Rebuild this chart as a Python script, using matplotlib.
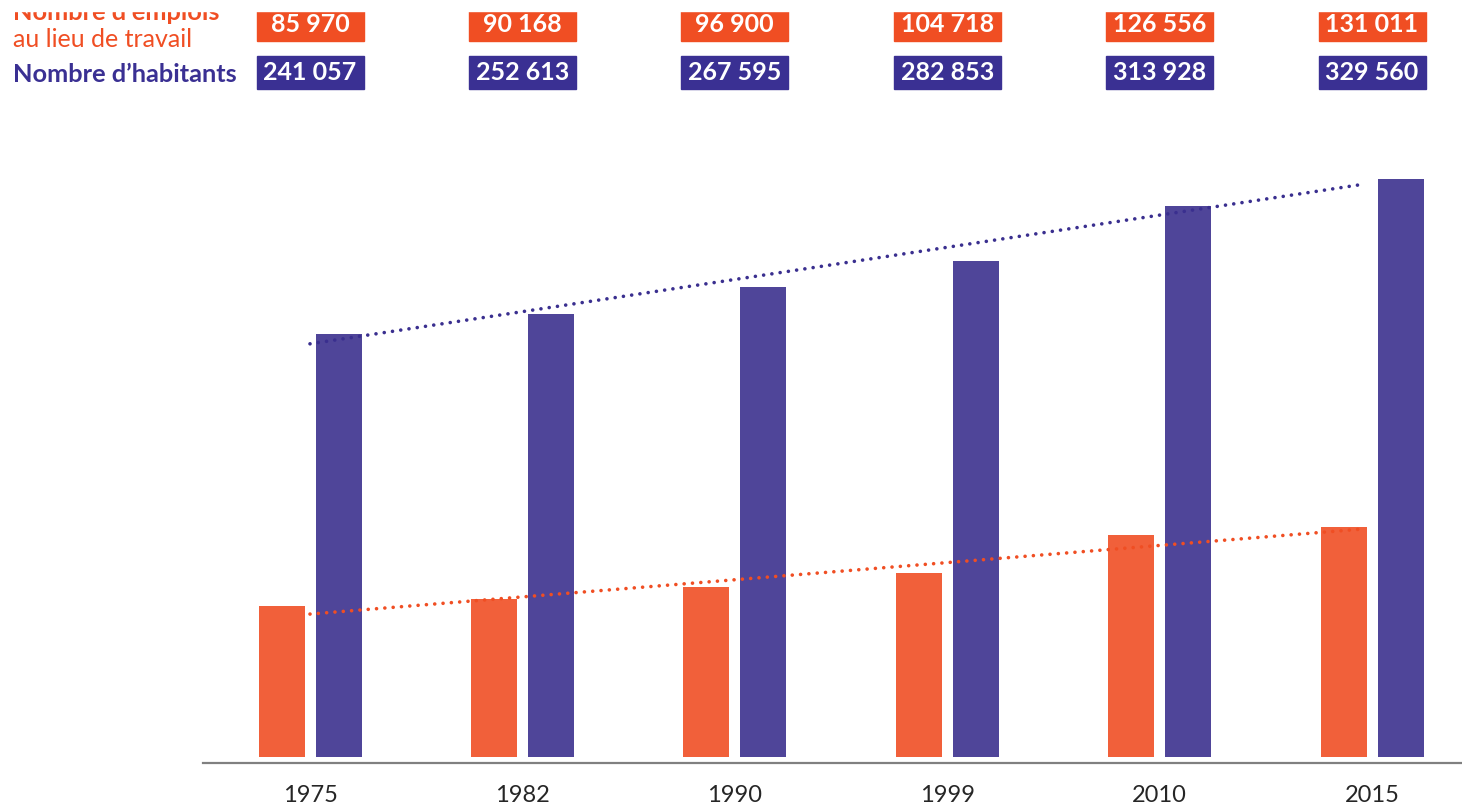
import numpy as np
import matplotlib
matplotlib.use("Agg")
import matplotlib.pyplot as plt
from matplotlib.patches import Rectangle

years = ["1975", "1982", "1990", "1999", "2010", "2015"]
emplois = [85970, 90168, 96900, 104718, 126556, 131011]
habitants = [241057, 252613, 267595, 282853, 313928, 329560]
emplois_lbl = ["85 970", "90 168", "96 900", "104 718", "126 556", "131 011"]
habitants_lbl = ["241 057", "252 613", "267 595", "282 853", "313 928", "329 560"]

orange_bar = "#F1603A"
purple_bar = "#4F4599"
orange_box = "#F04E23"
purple_box = "#3A3093"

plt.rcParams['font.family'] = ['Lato', 'DejaVu Sans']

W, H = 1462, 811
fig = plt.figure(figsize=(W / 100, H / 100), dpi=100)

# pixel geometry
px_unit = 0.001755          # pixels per inhabitant
base_px = 757               # y pixel of value 0
c0, step = 310, 212.4       # x pixel of first group, group spacing
ax_l, ax_r, ax_b, ax_t = 203, 1462, 763, 100

ax = fig.add_axes([ax_l / W, 1 - ax_b / H, (ax_r - ax_l) / W, (ax_b - ax_t) / H])
ax.set_xlim((ax_l - c0) / step, (ax_r - c0) / step)
ax.set_ylim(-(ax_b - base_px) / px_unit, (base_px - ax_t) / px_unit)

x = np.arange(len(years))
bw = 46 / step
off = 28.5 / step
ax.bar(x - off, emplois, width=bw, color=orange_bar, zorder=2)
ax.bar(x + off, habitants, width=bw, color=purple_bar, zorder=2)

# linear trend lines
for vals, col in [(habitants, "#3A2F8F"), (emplois, "#F04E23")]:
    a, b = np.polyfit(x, vals, 1)
    xs = np.array([0, 4.97])
    ax.plot(xs, a * xs + b, color=col, lw=2.6, dashes=(0.01, 2.3),
            dash_capstyle="round", zorder=3)

for s in ["top", "right", "left"]:
    ax.spines[s].set_visible(False)
ax.spines["bottom"].set_color("#808080")
ax.spines["bottom"].set_linewidth(1.6)
ax.set_yticks([])
ax.set_xticks(x)
ax.set_xticklabels(years, fontsize=17, color="#262626")
ax.tick_params(axis="x", length=0, pad=16)

# top value boxes
axt = fig.add_axes([ax_l / W, 1 - ax_t / H, (ax_r - ax_l) / W, ax_t / H])
axt.set_xlim(ax.get_xlim())
axt.set_ylim(ax_t, 0)
axt.axis("off")
hw = 53.5 / step
for i in range(len(years)):
    axt.add_patch(Rectangle((i - hw, 7), 2 * hw, 34, color=orange_box))
    axt.add_patch(Rectangle((i - hw, 56), 2 * hw, 33, color=purple_box))
    axt.text(i, 24.5, emplois_lbl[i], color="white", fontsize=18,
             fontweight="bold", ha="center", va="center")
    axt.text(i, 73, habitants_lbl[i], color="white", fontsize=18,
             fontweight="bold", ha="center", va="center")

fig.text(13 / W, 1 - 20 / H, "Nombre d\u2019emplois", color=orange_box,
         fontsize=18.3, fontweight="bold", ha="left", va="baseline")
fig.text(13 / W, 1 - 47 / H, "au lieu de travail", color=orange_box,
         fontsize=18, ha="left", va="baseline")
fig.text(13 / W, 1 - 82 / H, "Nombre d\u2019habitants", color=purple_box,
         fontsize=18.3, fontweight="bold", ha="left", va="baseline")

# the source image is cropped just above the boxes
fig.patches.append(Rectangle((0, 1 - 11 / H), 1, 11 / H, transform=fig.transFigure,
                             color="white", zorder=10))

fig.savefig("out.png", dpi=100)
